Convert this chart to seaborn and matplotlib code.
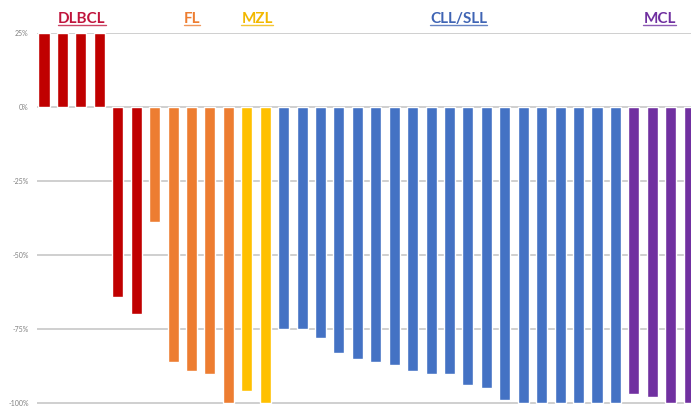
import numpy as np
import pandas as pd
import matplotlib
matplotlib.use("Agg")
import matplotlib.pyplot as plt
import seaborn as sns

# best response per patient (%)
dlbcl = [25, 25, 25, 25, -64, -70]
fl = [-39, -86, -89, -90, -100]
mzl = [-96, -100]
cll_sll = [-75, -75, -78, -83, -85, -86, -87, -89, -90, -90,
           -94, -95, -99, -100, -100, -100, -100, -100, -100]
mcl = [-97, -98, -100, -100]

group_names = ["DLBCL", "FL", "MZL", "CLL/SLL", "MCL"]
bar_colors = ["#C00000", "#ED7D31", "#FFC000", "#4472C4", "#7030A0"]
label_colors = ["#C0143C", "#ED7D31", "#F2B800", "#3F64B4", "#7030A0"]
label_pos = [2.06, 8.03, 11.56, 22.5, 33.4]
yticks = [25, 0, -25, -50, -75, -100]

vals = dlbcl + fl + mzl + cll_sll + mcl
grp = []
for name, g in zip(group_names, [dlbcl, fl, mzl, cll_sll, mcl]):
    grp += [name] * len(g)
df = pd.DataFrame({"patient": np.arange(len(vals)), "response": vals, "group": grp})

sns.set_style("white")
plt.rcParams["font.family"] = ["Lato", "DejaVu Sans"]

fig = plt.figure(figsize=(6.91, 4.08), dpi=100)
ax = fig.add_axes([37 / 691, 1 - 404 / 408, 654 / 691, 371 / 408])

sns.barplot(data=df, x="patient", y="response", hue="group", dodge=False,
            palette=dict(zip(group_names, bar_colors)), width=0.6,
            saturation=1, legend=False, ax=ax, zorder=3)

ax.set_xlim(-0.38, 35.1)
ax.set_ylim(-100.3, 25)
ax.set_yticks(yticks)
ax.set_yticklabels([f"{t}%" for t in yticks], fontsize=5, color="#808080")
ax.tick_params(axis="y", length=0, pad=6)
ax.set_xticks([])
ax.set_xlabel("")
ax.set_ylabel("")
for t in yticks:
    ax.axhline(t, color="#CCCCCC", lw=1.3, zorder=1)
for s in ax.spines.values():
    s.set_visible(False)

# group labels on top, underlined
trans = ax.get_xaxis_transform()
texts = []
for name, c, x in zip(group_names, label_colors, label_pos):
    t = ax.text(x, 1.037, name, transform=trans, ha="center", va="center",
                fontsize=11, fontweight="bold", color=c)
    texts.append((t, c))

fig.canvas.draw()
r = fig.canvas.get_renderer()
inv = fig.transFigure.inverted()
for t, c in texts:
    bb = t.get_window_extent(r)
    (x0, y0), (x1, _) = inv.transform([[bb.x0, bb.y0 + 1], [bb.x1, bb.y0]])
    fig.add_artist(plt.Line2D([x0, x1], [y0, y0], color=c, lw=1.0, alpha=0.8,
                              transform=fig.transFigure))

fig.savefig("out.png", dpi=100)
